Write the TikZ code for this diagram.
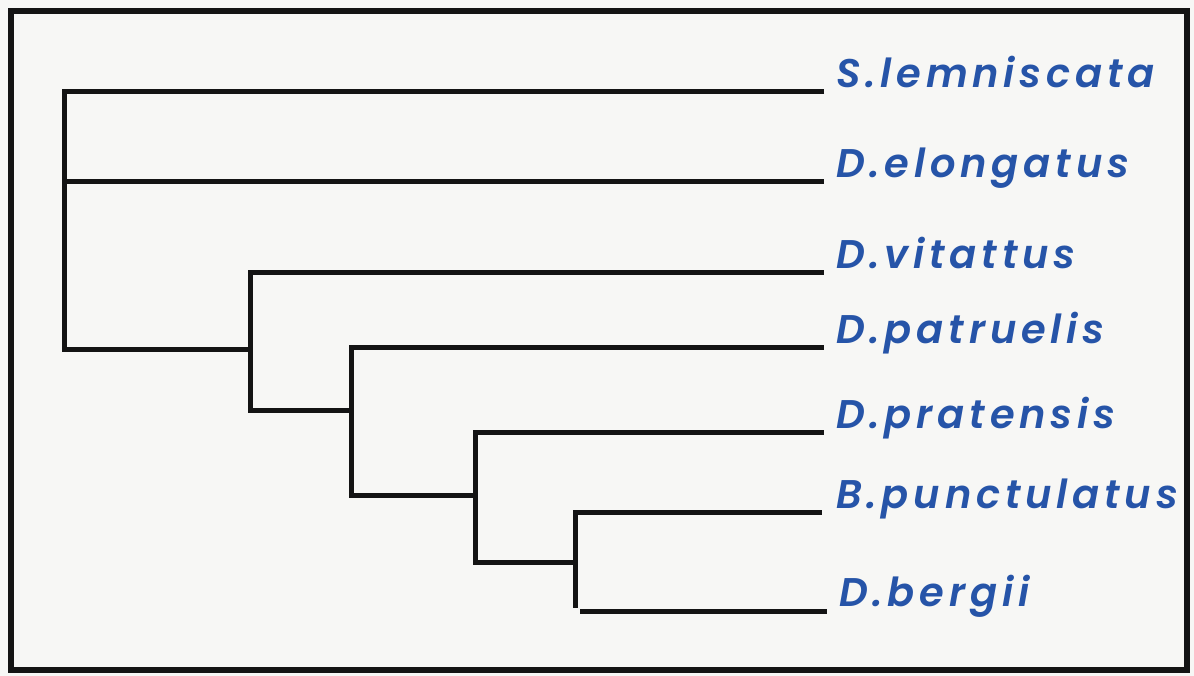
\documentclass[tikz,border=0pt]{standalone}
\usepackage{fontspec}
\newfontfamily\labelfont[LetterSpace=12]{Poppins SemiBold Italic}
\definecolor{labelblue}{RGB}{38,84,168}
\definecolor{paper}{RGB}{247,247,245}
\begin{document}
\begin{tikzpicture}[x=1pt,y=-1pt,
  branch/.style={line width=5pt,black!92},
  frame/.style={line width=6.5pt,black!92},
  taxon/.style={anchor=base west,inner sep=0pt,text=labelblue,font=\labelfont\fontsize{40}{40}\selectfont}]
\fill[paper] (0,0) rectangle (1194,676);
\useasboundingbox (0,0) rectangle (1194,676);
\draw[frame] (11,11) rectangle (1187,670);
% leaves
\node[taxon] (sl) at (836,88) {S.lemniscata};
\node[taxon] (de) at (836,178) {D.elongatus};
\node[taxon] (dv) at (836,269) {D.vitattus};
\node[taxon] (dp) at (836,343) {D.patruelis};
\node[taxon] (dr) at (836,428) {D.pratensis};
\node[taxon] (bp) at (836,508) {B.punctulatus};
\node[taxon] (db) at (839,606) {D.bergii};
% line ends
\coordinate (esl) at (824,92);
\coordinate (ede) at (824,182);
\coordinate (edv) at (824,273);
\coordinate (edp) at (824,347);
\coordinate (edr) at (824,432);
\coordinate (ebp) at (822,512);
\coordinate (edb) at (827,611);
% internal nodes
\coordinate (root) at (64,349);
\coordinate (na) at (250,410);
\coordinate (nb) at (351,495);
\coordinate (nc) at (475,562);
\coordinate (nd) at (575,608);
% branches
\draw[branch] (esl) -| (root) -| (na |- edv) -- (edv);
\draw[branch] (root |- ede) -- (ede);
\draw[branch] (na |- edv) -- (na) -| (nb |- edp) -- (edp);
\draw[branch] (nb |- edp) -- (nb) -| (nc |- edr) -- (edr);
\draw[branch] (nc |- edr) -- (nc) -| (nd |- ebp) -- (ebp);
\draw[branch] (nd |- ebp) -- (nd);
\draw[branch] (580,611) -- (edb);
\end{tikzpicture}
\end{document}
